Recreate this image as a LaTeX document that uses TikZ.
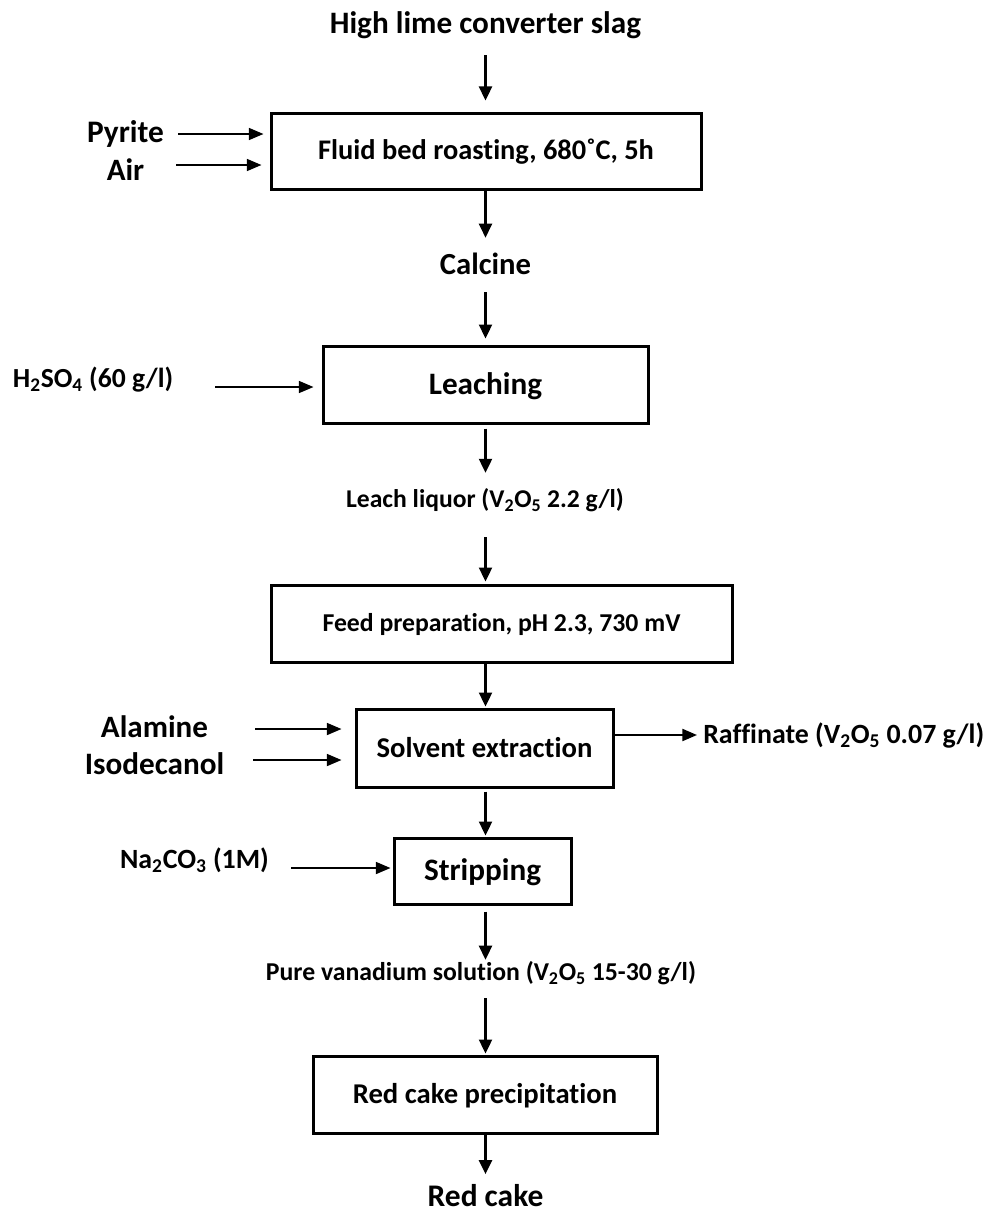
\documentclass[tikz,border=0pt]{standalone}
\usepackage{fontspec}
\setmainfont{Carlito}[Ligatures=NoCommon]
\usetikzlibrary{arrows.meta}
\begin{document}
\begin{tikzpicture}[x=0.75pt,y=-0.75pt,
  txt/.style={font=\fontsize{#1pt}{#1pt}\selectfont\bfseries, inner sep=0pt,
    text height={0.632*#1pt}, text depth=0pt},
  box/.style={draw, line width=2.25pt, inner sep=0pt},
  varr/.style={line width=1.75pt, -{Triangle[length=10.5pt,width=9.75pt]}},
  harr/.style={line width=1.3pt, -{Triangle[length=11pt,width=9pt]}},
  rarr/.style={line width=1.6pt, -{Triangle[length=11pt,width=9pt]}}]
\useasboundingbox (0,0) rectangle (992,1213);
\coordinate (axis) at (485.5,0);

% main column
\node[txt=23.4] (title) at (485.5,24) {High lime converter slag};
\node[box, txt=21.3, minimum width=322.5pt, minimum height=57pt] (roast) at (486,151)
  {Fluid bed roasting, 680˚C, 5h};
\node[txt=23.0] (calcine) at (485.5,265) {Calcine};
\node[box, txt=23.4, minimum width=243.75pt, minimum height=57.75pt] (leach) at (485.5,384.5)
  {Leaching};
\node[txt=19.2] (liquor) at (485,499) {Leach liquor (V\textsubscript{2}O\textsubscript{5} 2.2 g/l)};
\node[box, txt=19.3, minimum width=345.75pt, minimum height=57.75pt] (feed) at (501.5,623.5)
  {Feed preparation, pH 2.3, 730 mV};
\node[box, txt=21.5, minimum width=192.75pt, minimum height=58.5pt] (solvent) at (484.5,748)
  {Solvent extraction};
\node[box, txt=23.4, minimum width=132.75pt, minimum height=49.5pt] (strip) at (482.5,871)
  {Stripping};
\node[txt=19.3] (pure) at (481,972) {Pure vanadium solution (V\textsubscript{2}O\textsubscript{5} 15-30 g/l)};
\node[box, txt=21.5, minimum width=258pt, minimum height=57.75pt] (redbox) at (485,1094.5)
  {Red cake precipitation};
\node[txt=23.6] (redcake) at (485.5,1197) {Red cake};

% side streams
\node[txt=23.5] (pyrite) at (125.5,132.5) {Pyrite};
\node[txt=23.3] (air) at (125.5,170.5) {Air};
\node[txt=20.7] (acid) at (93,379) {H\textsubscript{2}SO\textsubscript{4} (60 g/l)};
\node[txt=23.3] (alamine) at (154.5,728) {Alamine};
\node[txt=23.4] (isodec) at (154.5,765) {Isodecanol};
\node[txt=20.9] (soda) at (194.5,860) {Na\textsubscript{2}CO\textsubscript{3} (1M)};
\node[txt=20.9, anchor=west] (raff) at (703,735) {Raffinate (V\textsubscript{2}O\textsubscript{5} 0.07 g/l)};

\coordinate (pyrin) at (178,134);
\coordinate (airin) at (176,165);
\coordinate (acidin) at (215,387);
\coordinate (alain) at (255,729);
\coordinate (isoin) at (253,760);
\coordinate (sodain) at (291,868);

% vertical flow
\draw[varr, shorten <=16pt, shorten >=8.25pt] (axis |- title.south) -- (axis |- roast.north);
\draw[varr, shorten >=13pt] (axis |- roast.south) -- (axis |- calcine.north);
\draw[varr, shorten <=13pt, shorten >=4.5pt] (axis |- calcine.south) -- (axis |- leach.north);
\draw[varr, shorten <=3pt, shorten >=13.4pt] (axis |- leach.south) -- (axis |- liquor.north);
\draw[varr, shorten <=22.4pt, shorten >=1.5pt] (axis |- liquor.south) -- (axis |- feed.north);
\draw[varr, shorten >=0.75pt] (axis |- feed.south) -- (axis |- solvent.north);
\draw[varr, shorten <=2.25pt, shorten >=0.75pt] (axis |- solvent.south) -- (axis |- strip.north);
\draw[varr, shorten <=4.5pt, shorten >=2.9pt] (axis |- strip.south) -- (axis |- pure.north);
\draw[varr, shorten <=13.4pt, shorten >=0.75pt] (axis |- pure.south) -- (axis |- redbox.north);
\draw[varr, shorten >=9.5pt] (axis |- redbox.south) -- (axis |- redcake.north);

% feeds and outlet
\draw[harr, shorten >=4.5pt] (pyrin) -- (pyrin -| roast.west);
\draw[harr, shorten >=6pt] (airin) -- (airin -| roast.west);
\draw[harr, shorten >=6pt] (acidin) -- (acidin -| leach.west);
\draw[harr, shorten >=9.75pt] (alain) -- (alain -| solvent.west);
\draw[harr, shorten >=9.75pt] (isoin) -- (isoin -| solvent.west);
\draw[harr, shorten >=1.5pt] (sodain) -- (sodain -| strip.west);
\draw[rarr, shorten >=4.5pt] (solvent.east |- raff.west) -- (raff.west);
\end{tikzpicture}
\end{document}
